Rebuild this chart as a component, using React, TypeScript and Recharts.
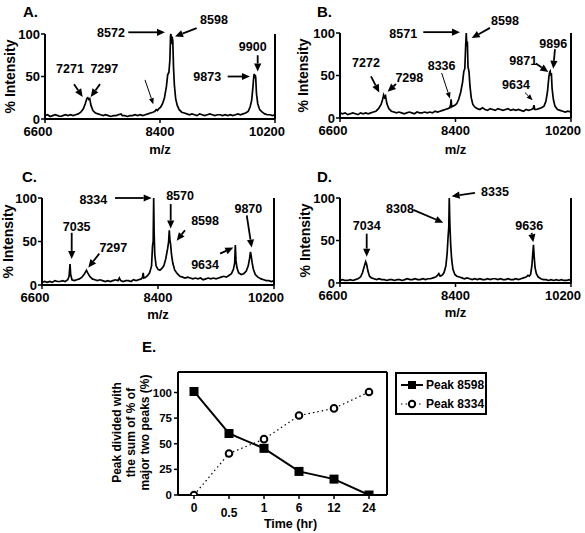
import React from 'react'
import { LineChart, Line, XAxis, YAxis, ReferenceLine, ReferenceDot, Legend } from 'recharts'

const FONT = '"Liberation Sans", Arial, sans-serif'

// MALDI spectra, [m/z, % intensity]
const spectrumA: [number, number][] = [
  [6600, 4], [6640, 5], [6680, 3], [6720, 4], [6760, 5], [6800, 4], [6840, 3], [6880, 4], [6920, 5], [6960, 4],
  [7000, 5], [7040, 4], [7080, 5], [7120, 6], [7160, 8], [7200, 12], [7230, 18], [7255, 24], [7270, 25], [7285, 23],
  [7300, 24], [7320, 16], [7350, 10], [7390, 7], [7430, 6], [7470, 5], [7510, 4], [7550, 5], [7590, 4], [7630, 3],
  [7670, 4], [7710, 4], [7750, 5], [7790, 6], [7810, 4], [7850, 4], [7890, 3], [7930, 4], [7970, 4], [8010, 5],
  [8050, 4], [8090, 5], [8130, 4], [8170, 5], [8210, 6], [8250, 7], [8290, 8], [8320, 9], [8340, 11], [8360, 10],
  [8380, 12], [8410, 14], [8440, 18], [8470, 25], [8500, 38], [8520, 52], [8540, 55], [8555, 70], [8565, 98], [8572, 100],
  [8580, 88], [8590, 97], [8600, 92], [8612, 60], [8625, 40], [8645, 24], [8670, 16], [8700, 11], [8740, 8], [8780, 7],
  [8820, 6], [8860, 5], [8900, 6], [8940, 5], [8980, 4], [9020, 6], [9060, 5], [9100, 4], [9140, 5], [9180, 6],
  [9220, 5], [9260, 4], [9300, 5], [9340, 5], [9380, 4], [9420, 5], [9460, 4], [9500, 5], [9540, 4], [9580, 5],
  [9620, 6], [9660, 5], [9700, 6], [9740, 7], [9780, 9], [9810, 14], [9835, 22], [9855, 38], [9868, 50], [9875, 53],
  [9882, 48], [9890, 52], [9898, 49], [9910, 30], [9930, 18], [9960, 11], [10000, 8], [10040, 6], [10080, 5], [10120, 5],
  [10160, 4], [10200, 5],
]

const spectrumB: [number, number][] = [
  [6600, 6], [6640, 5], [6680, 6], [6720, 4], [6760, 5], [6800, 6], [6840, 5], [6880, 4], [6920, 6], [6960, 5],
  [7000, 6], [7040, 5], [7080, 6], [7120, 7], [7160, 8], [7200, 11], [7240, 16], [7265, 22], [7280, 27], [7295, 24],
  [7310, 26], [7330, 17], [7360, 11], [7400, 8], [7440, 7], [7480, 6], [7520, 7], [7560, 6], [7600, 5], [7640, 6],
  [7680, 7], [7720, 6], [7760, 5], [7800, 7], [7840, 6], [7880, 6], [7920, 7], [7960, 6], [8000, 7], [8040, 6],
  [8080, 8], [8120, 7], [8160, 8], [8200, 9], [8240, 10], [8280, 11], [8310, 12], [8325, 16], [8332, 22], [8340, 13],
  [8360, 14], [8390, 15], [8420, 17], [8450, 22], [8480, 30], [8510, 42], [8530, 55], [8545, 58], [8560, 88], [8568, 100],
  [8576, 85], [8585, 90], [8595, 60], [8610, 55], [8625, 38], [8645, 24], [8670, 16], [8700, 13], [8740, 11], [8780, 10],
  [8820, 12], [8860, 10], [8900, 9], [8940, 11], [8980, 10], [9020, 9], [9060, 11], [9100, 10], [9140, 9], [9180, 10],
  [9220, 11], [9260, 9], [9300, 10], [9340, 9], [9380, 10], [9420, 9], [9460, 8], [9500, 10], [9540, 9], [9580, 10],
  [9610, 11], [9623, 15], [9635, 10], [9660, 10], [9700, 11], [9740, 12], [9780, 14], [9810, 20], [9835, 32], [9855, 48],
  [9868, 54], [9876, 55], [9884, 50], [9894, 53], [9905, 35], [9925, 22], [9950, 14], [9990, 10], [10030, 9], [10070, 8],
  [10110, 7], [10150, 8], [10200, 7],
]

const spectrumC: [number, number][] = [
  [6600, 3], [6640, 4], [6680, 3], [6720, 4], [6760, 3], [6800, 5], [6840, 4], [6880, 4], [6920, 5], [6960, 4],
  [7000, 6], [7020, 10], [7035, 24], [7045, 12], [7065, 6], [7100, 5], [7140, 6], [7180, 7], [7220, 9], [7260, 13],
  [7290, 17], [7310, 14], [7340, 10], [7380, 7], [7420, 6], [7460, 5], [7500, 6], [7540, 5], [7580, 4], [7620, 5],
  [7660, 4], [7700, 5], [7740, 6], [7780, 5], [7800, 8], [7820, 5], [7860, 4], [7900, 5], [7940, 5], [7980, 4],
  [8020, 6], [8060, 5], [8100, 6], [8140, 7], [8160, 9], [8170, 14], [8180, 8], [8210, 9], [8240, 11], [8270, 14],
  [8300, 22], [8315, 45], [8325, 50], [8333, 100], [8340, 60], [8350, 35], [8370, 22], [8400, 18], [8430, 17], [8460, 19],
  [8490, 22], [8520, 30], [8550, 42], [8565, 50], [8575, 63], [8585, 52], [8595, 47], [8610, 35], [8630, 25], [8660, 17],
  [8700, 13], [8740, 10], [8780, 9], [8820, 8], [8860, 9], [8900, 8], [8940, 7], [8980, 8], [9020, 7], [9060, 8],
  [9100, 6], [9140, 7], [9180, 8], [9220, 7], [9260, 8], [9300, 7], [9340, 8], [9380, 9], [9420, 10], [9460, 9],
  [9500, 11], [9540, 13], [9570, 18], [9590, 25], [9600, 46], [9610, 28], [9625, 20], [9650, 14], [9690, 12], [9730, 13],
  [9770, 16], [9800, 22], [9820, 30], [9835, 38], [9845, 34], [9860, 26], [9880, 18], [9910, 12], [9950, 9], [10000, 7],
  [10040, 6], [10080, 5], [10120, 5], [10160, 4], [10200, 5],
]

const spectrumD: [number, number][] = [
  [6600, 3], [6640, 4], [6680, 3], [6720, 3], [6760, 4], [6800, 3], [6840, 4], [6880, 5], [6920, 7], [6950, 12],
  [6980, 20], [7000, 25], [7015, 22], [7035, 14], [7060, 8], [7090, 6], [7130, 5], [7170, 4], [7210, 5], [7250, 4],
  [7290, 4], [7330, 3], [7370, 4], [7410, 4], [7450, 3], [7490, 4], [7530, 4], [7570, 3], [7610, 4], [7650, 5],
  [7690, 4], [7730, 4], [7770, 5], [7810, 4], [7850, 4], [7890, 5], [7930, 4], [7970, 5], [8010, 5], [8050, 6],
  [8090, 7], [8120, 9], [8140, 11], [8160, 8], [8190, 9], [8220, 12], [8250, 20], [8270, 35], [8285, 55], [8295, 65],
  [8303, 100], [8312, 70], [8325, 45], [8340, 28], [8360, 16], [8390, 10], [8420, 8], [8460, 7], [8500, 6], [8540, 5],
  [8580, 6], [8620, 5], [8660, 4], [8700, 5], [8740, 4], [8780, 5], [8820, 4], [8860, 4], [8900, 5], [8940, 4],
  [8980, 5], [9020, 5], [9060, 4], [9100, 5], [9140, 4], [9180, 4], [9220, 5], [9260, 4], [9300, 4], [9340, 5],
  [9380, 4], [9420, 5], [9460, 6], [9500, 7], [9530, 9], [9550, 8], [9570, 10], [9590, 20], [9605, 35], [9615, 45],
  [9625, 32], [9640, 18], [9660, 11], [9690, 7], [9730, 5], [9770, 4], [9810, 4], [9850, 3], [9890, 4], [9930, 3],
  [9970, 4], [10010, 3], [10050, 4], [10090, 3], [10130, 3], [10170, 4], [10200, 3],
]

const mzTicks = [6600, 8400, 10200]
const intensityTicks = [0, 50, 100]

// peak callouts: label centre (tx, ty) and arrow from (x1, y1) to tip (x2, y2), in m/z / % units
type Note = { text: string; tx: number; ty: number; x1: number; y1: number; x2: number; y2: number; thin?: boolean }

const notesA: Note[] = [
  { text: '7271', tx: 6991, ty: 60, x1: 7054, y1: 41, x2: 7190, y2: 26 },
  { text: '7297', tx: 7528, ty: 60, x1: 7461, y1: 41, x2: 7315, y2: 26 },
  { text: '8572', tx: 7633, ty: 102, x1: 7904, y1: 102, x2: 8478, y2: 102 },
  { text: '8598', tx: 9245, ty: 117, x1: 8974, y1: 107, x2: 8635, y2: 97 },
  { text: '9900', tx: 9851, ty: 85, x1: 9929, y1: 75, x2: 9929, y2: 56 },
  { text: '9873', tx: 9140, ty: 50, x1: 9459, y1: 50, x2: 9808, y2: 50 },
  { text: '', tx: 0, ty: 0, x1: 8165, y1: 46, x2: 8295, y2: 17.5, thin: true },
]

const notesB: Note[] = [
  { text: '7272', tx: 7005, ty: 65, x1: 7083, y1: 49, x2: 7212, y2: 30 },
  { text: '7298', tx: 7680, ty: 48, x1: 7473, y1: 40, x2: 7343, y2: 31 },
  { text: '8336', tx: 8184, ty: 62, x1: 8184, y1: 53, x2: 8314, y2: 23, thin: true },
  { text: '8571', tx: 7586, ty: 100, x1: 7898, y1: 101, x2: 8470, y2: 101 },
  { text: '8598', tx: 9171, ty: 115, x1: 8937, y1: 106, x2: 8652, y2: 94 },
  { text: '9896', tx: 9923, ty: 88, x1: 9950, y1: 81, x2: 9923, y2: 58 },
  { text: '9871', tx: 9456, ty: 68, x1: 9654, y1: 64, x2: 9846, y2: 54 },
  { text: '9634', tx: 9342, ty: 40, x1: 9482, y1: 30, x2: 9602, y2: 21, thin: true },
]

const notesC: Note[] = [
  { text: '7035', tx: 7138, ty: 67, x1: 7061, y1: 60, x2: 7061, y2: 30 },
  { text: '7297', tx: 7707, ty: 43, x1: 7489, y1: 36, x2: 7319, y2: 20 },
  { text: '8334', tx: 7396, ty: 98.5, x1: 7733, y1: 100, x2: 8302, y2: 100 },
  { text: '8570', tx: 8742, ty: 103, x1: 8597, y1: 93, x2: 8597, y2: 65 },
  { text: '8598', tx: 9130, ty: 74, x1: 8819, y1: 63, x2: 8690, y2: 51 },
  { text: '9634', tx: 9130, ty: 24, x1: 9363, y1: 36, x2: 9569, y2: 43 },
  { text: '9870', tx: 9802, ty: 88, x1: 9777, y1: 80, x2: 9854, y2: 43 },
]

const notesD: Note[] = [
  { text: '7034', tx: 7016, ty: 68, x1: 7016, y1: 58, x2: 7016, y2: 31 },
  { text: '8308', tx: 7535, ty: 88, x1: 7742, y1: 86, x2: 8210, y2: 71 },
  { text: '8335', tx: 9015, ty: 107.5, x1: 8703, y1: 106, x2: 8340, y2: 102 },
  { text: '9636', tx: 9549, ty: 68, x1: 9587, y1: 59, x2: 9612, y2: 48 },
]

// panel E: relative peak share over time
const timeLabels = ['0', '0.5', '1', '6', '12', '24']
const peak8598 = [101, 60, 45.5, 23, 15.5, 0]
const peak8334 = [0, 40.5, 54.5, 77.5, 84.5, 100.5]
const seriesNames = ['Peak 8598', 'Peak 8334']
const shareTicks = [0, 25, 50, 75, 100]
const shareLabelLines = ['Peak divided with', 'the sum of % of', 'major two peaks (%)']

const toRows = (s: [number, number][]) => s.map(([mz, i]) => ({ mz, i }))
const eRows = timeLabels.map((t, k) => ({ k, t, a: peak8598[k], b: peak8334[k] }))

const boldText = { fontFamily: FONT, fontWeight: 'bold' as const, fill: '#000' }

const ArrowShape = ({ x1, y1, x2, y2, thin }: any) => {
  const len = Math.hypot(x2 - x1, y2 - y1) || 1
  const ux = (x2 - x1) / len
  const uy = (y2 - y1) / len
  const hl = thin ? 6 : 8
  const hw = thin ? 2.5 : 3.6
  const bx = x2 - ux * hl
  const by = y2 - uy * hl
  const pts = `${x2},${y2} ${bx - uy * hw},${by + ux * hw} ${bx + uy * hw},${by - ux * hw}`
  return (
    <g>
      <line x1={x1} y1={y1} x2={bx} y2={by} stroke="#000" strokeWidth={thin ? 1 : 1.8} />
      <polygon points={pts} fill="#000" />
    </g>
  )
}

// end labels sit slightly inward of their tick, as in the original
const MzTick = ({ x, y, payload }: any) => {
  const v = payload.value
  const shift = v === 10200 ? -8 : v === 6600 ? -7 : 0
  return (
    <text x={x + shift} y={y} dy="0.71em" textAnchor="middle" fontSize={13} {...boldText}>
      {v}
    </text>
  )
}

const MzLabel = ({ viewBox, dy }: any) => (
  <text x={viewBox.x + viewBox.width / 2} y={viewBox.y + dy} dy="0.3em" textAnchor="middle" fontSize={13} {...boldText}>
    m/z
  </text>
)

const IntensityLabel = ({ viewBox, dx }: any) => {
  const cx = viewBox.x + dx
  const cy = viewBox.y + viewBox.height / 2
  return (
    <text x={cx} y={cy} dy="0.35em" textAnchor="middle" transform={`rotate(-90 ${cx} ${cy})`} fontSize={14} {...boldText}>
      % Intensity
    </text>
  )
}

type PanelProps = {
  title: string
  rows: { mz: number; i: number }[]
  notes: Note[]
  left: number
  top: number
  width: number
  height: number
  margin: { top: number; right: number; bottom: number; left: number }
  yWidth: number
  yLabelDx: number
  mzDy: number
  titleLeft: number
  titleTop: number
}

function SpectrumPanel(p: PanelProps) {
  return (
    <>
      <div style={{ position: 'absolute', left: p.left, top: p.top }}>
        <LineChart width={p.width} height={p.height} data={p.rows} margin={p.margin}>
          <XAxis
            dataKey="mz"
            type="number"
            domain={[6600, 10200]}
            ticks={mzTicks}
            interval={0}
            allowDataOverflow
            height={20}
            tickSize={4}
            tickMargin={4}
            axisLine={{ stroke: '#000', strokeWidth: 2 }}
            tickLine={{ stroke: '#000', strokeWidth: 1.5 }}
            tick={<MzTick />}
            label={<MzLabel dy={p.mzDy} />}
          />
          <YAxis
            type="number"
            domain={[0, 100]}
            ticks={intensityTicks}
            interval={0}
            width={p.yWidth}
            tickSize={4}
            tickMargin={1}
            axisLine={{ stroke: '#000', strokeWidth: 2 }}
            tickLine={{ stroke: '#000', strokeWidth: 1.5 }}
            tick={{ ...boldText, fontSize: 13 }}
            label={<IntensityLabel dx={p.yLabelDx} />}
          />
          <ReferenceLine x={10200} stroke="#000" strokeWidth={2} />
          <Line type="linear" dataKey="i" stroke="#000" strokeWidth={1.7} dot={false} isAnimationActive={false} />
          {p.notes.map((n, k) => (
            <ReferenceLine
              key={`a${k}`}
              segment={[{ x: n.x1, y: n.y1 }, { x: n.x2, y: n.y2 }]}
              ifOverflow="visible"
              shape={(sp: any) => <ArrowShape {...sp} thin={n.thin} />}
            />
          ))}
          {p.notes
            .filter((n) => n.text)
            .map((n, k) => (
              <ReferenceDot
                key={`t${k}`}
                x={n.tx}
                y={n.ty}
                ifOverflow="visible"
                shape={(sp: any) => (
                  <text x={sp.cx} y={sp.cy} dy="0.36em" textAnchor="middle" fontSize={12.5} {...boldText}>
                    {n.text}
                  </text>
                )}
              />
            ))}
        </LineChart>
      </div>
      <div
        style={{
          position: 'absolute',
          left: p.titleLeft,
          top: p.titleTop,
          fontFamily: FONT,
          fontWeight: 'bold',
          fontSize: 15,
          lineHeight: '18px',
        }}
      >
        {p.title}
      </div>
    </>
  )
}

const TimeTick = ({ x, y, payload }: any) => {
  const lab = timeLabels[payload.value]
  return (
    <text x={x} y={y + (lab === '0.5' ? 5 : 0)} dy="0.71em" textAnchor="middle" fontSize={12} {...boldText}>
      {lab}
    </text>
  )
}

const TimeLabel = ({ viewBox }: any) => (
  <text x={viewBox.x + viewBox.width / 2 + 8} y={viewBox.y + 29} dy="0.35em" textAnchor="middle" fontSize={12.5} {...boldText}>
    Time (hr)
  </text>
)

const ShareLabel = ({ viewBox }: any) => {
  const cy = viewBox.y + viewBox.height / 2 - 1
  return (
    <g>
      {shareLabelLines.map((s, i) => {
        const cx = viewBox.x + 17 + i * 14
        return (
          <text key={s} x={cx} y={cy} dy="0.35em" textAnchor="middle" transform={`rotate(-90 ${cx} ${cy})`} fontSize={12} {...boldText}>
            {s}
          </text>
        )
      })}
    </g>
  )
}

const ShareKey = ({ payload }: any) => {
  const items = [...(payload || [])].sort((p: any, q: any) => seriesNames.indexOf(p.value) - seriesNames.indexOf(q.value))
  return (
    <div
      style={{
        boxSizing: 'border-box',
        width: 92,
        height: 43,
        border: '2px solid #000',
        background: '#fff',
        fontFamily: FONT,
        fontWeight: 'bold',
        fontSize: 12,
        padding: '1px 0 0 3px',
      }}
    >
      {items.map((e: any) => {
        const solid = e.dataKey === 'a'
        return (
          <div key={e.value} style={{ display: 'flex', alignItems: 'center', height: 19 }}>
            <svg width={24} height={14} style={{ marginRight: 2 }}>
              <line x1={1} y1={7} x2={23} y2={7} stroke="#000" strokeWidth={solid ? 2 : 1.2} strokeDasharray={solid ? undefined : '1.5 3'} />
              {solid ? (
                <rect x={8} y={3} width={8} height={8} fill="#000" />
              ) : (
                <circle cx={12} cy={7} r={3.2} fill="#fff" stroke="#000" strokeWidth={2} />
              )}
            </svg>
            <span>{e.value}</span>
          </div>
        )
      })}
    </div>
  )
}

export default function App() {
  return (
    <div style={{ position: 'absolute', left: 0, top: 0, width: 585, height: 533, background: '#fff', overflow: 'hidden' }}>
      <SpectrumPanel
        title="A."
        rows={toRows(spectrumA)}
        notes={notesA}
        left={0}
        top={0}
        width={290}
        height={160}
        margin={{ top: 34, right: 15, bottom: 21, left: 0 }}
        yWidth={45}
        yLabelDx={10}
        mzDy={31}
        titleLeft={23}
        titleTop={3}
      />
      <SpectrumPanel
        title="B."
        rows={toRows(spectrumB)}
        notes={notesB}
        left={290}
        top={0}
        width={295}
        height={160}
        margin={{ top: 33, right: 14, bottom: 22, left: 0 }}
        yWidth={50}
        yLabelDx={13}
        mzDy={32}
        titleLeft={317}
        titleTop={3}
      />
      <SpectrumPanel
        title="C."
        rows={toRows(spectrumC)}
        notes={notesC}
        left={0}
        top={145}
        width={290}
        height={180}
        margin={{ top: 53, right: 16, bottom: 20, left: 0 }}
        yWidth={42}
        yLabelDx={8}
        mzDy={30}
        titleLeft={22}
        titleTop={168}
      />
      <SpectrumPanel
        title="D."
        rows={toRows(spectrumD)}
        notes={notesD}
        left={290}
        top={145}
        width={295}
        height={180}
        margin={{ top: 53, right: 14, bottom: 22, left: 0 }}
        yWidth={50}
        yLabelDx={15}
        mzDy={30}
        titleLeft={317}
        titleTop={168}
      />

      <div style={{ position: 'absolute', left: 100, top: 340 }}>
        <LineChart width={300} height={193} data={eRows} margin={{ top: 32, right: 13, bottom: 18, left: 0 }}>
          <XAxis
            dataKey="k"
            type="number"
            domain={[-0.457, 5.514]}
            ticks={[0, 1, 2, 3, 4, 5]}
            interval={0}
            allowDataOverflow
            height={20}
            tickSize={4}
            tickMargin={4}
            axisLine={{ stroke: '#000', strokeWidth: 2 }}
            tickLine={{ stroke: '#000', strokeWidth: 1.5 }}
            tick={<TimeTick />}
            label={<TimeLabel />}
          />
          <YAxis
            type="number"
            domain={[0, 120]}
            ticks={shareTicks}
            interval={0}
            allowDataOverflow
            width={78}
            tickSize={4}
            tickMargin={2}
            axisLine={{ stroke: '#000', strokeWidth: 2 }}
            tickLine={{ stroke: '#000', strokeWidth: 1.5 }}
            tick={{ ...boldText, fontSize: 11.5 }}
            label={<ShareLabel />}
          />
          <ReferenceLine y={120} stroke="#000" strokeWidth={2} />
          <ReferenceLine x={5.514} stroke="#000" strokeWidth={2} />
          <Line
            type="linear"
            dataKey="a"
            name={seriesNames[0]}
            stroke="#000"
            strokeWidth={2}
            isAnimationActive={false}
            dot={(d: any) => <rect key={`s${d.index}`} x={d.cx - 4.5} y={d.cy - 4.5} width={9} height={9} fill="#000" />}
          />
          <Line
            type="linear"
            dataKey="b"
            name={seriesNames[1]}
            stroke="#000"
            strokeWidth={1.2}
            strokeDasharray="1.5 3"
            isAnimationActive={false}
            dot={(d: any) => <circle key={`c${d.index}`} cx={d.cx} cy={d.cy} r={3.3} fill="#fff" stroke="#000" strokeWidth={2} />}
          />
          <Legend
            layout="vertical"
            align="center"
            verticalAlign="middle"
            wrapperStyle={{ left: 295, top: 32, width: 92, height: 43 }}
            content={<ShareKey />}
          />
        </LineChart>
      </div>
      <div
        style={{ position: 'absolute', left: 142, top: 338, fontFamily: FONT, fontWeight: 'bold', fontSize: 15, lineHeight: '18px' }}
      >
        E.
      </div>
    </div>
  )
}
